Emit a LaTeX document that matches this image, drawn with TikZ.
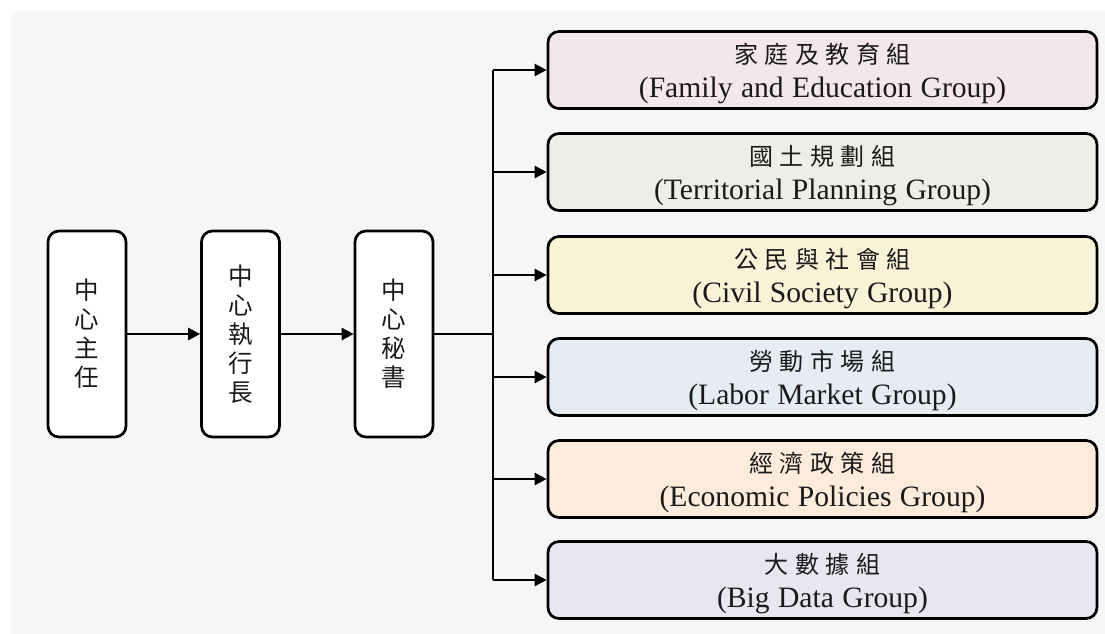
\documentclass[tikz,border=0pt]{standalone}
\usepackage{fontspec}
\setmainfont{Liberation Serif}
\newfontfamily\cjk{Noto Sans CJK TC}
\usetikzlibrary{arrows.meta}
\definecolor{bgc}{HTML}{F6F6F6}
\definecolor{ink}{HTML}{1A1A1A}
\definecolor{cpink}{HTML}{F4E7EC}
\definecolor{cgreen}{HTML}{ECEFE8}
\definecolor{cyellow}{HTML}{FAF3D8}
\definecolor{cblue}{HTML}{E6ECF4}
\definecolor{cpeach}{HTML}{FDEBDC}
\definecolor{clav}{HTML}{EAE6F1}
\newcommand\zs{\hspace{6.5pt}}
\newcommand\zh[1]{{\cjk\fontsize{24}{34}\selectfont\rule{0pt}{28pt}#1}}
\newcommand\engfont{\fontsize{29.6}{34}\selectfont\spaceskip 8.4pt plus 2pt minus 1pt\relax}
\begin{document}
\begin{tikzpicture}[x=1pt,y=-1pt,
  lbox/.style={draw=black, line width=2.7pt, rounded corners=11pt, fill=white,
    minimum width=78pt, minimum height=206pt, inner sep=0pt, align=center,
    text=ink, font=\cjk\fontsize{24.5}{29}\selectfont},
  rbox/.style={draw=black, line width=2.7pt, rounded corners=11pt,
    minimum width=549pt, minimum height=77pt, inner sep=0pt, align=center,
    text=ink, font=\engfont},
  conn/.style={draw=black, line width=2.5pt},
  arr/.style={conn, -{Triangle[length=12pt,width=12pt]}}]
\useasboundingbox (0,0) rectangle (1105,633);
\fill[bgc, rounded corners=10pt] (10,10) rectangle (1130,660);
% left chain
\node[lbox] (b1) at (87,334) {中\\心\\主\\任};
\node[lbox] (b2) at (240.5,334) {中\\心\\執\\行\\長};
\node[lbox] (b3) at (394,334) {中\\心\\秘\\書};
% right groups
\node[rbox, fill=cpink]   (r1) at (822.5,70)  {\zh{家\zs{}庭\zs{}及\zs{}教\zs{}育\zs{}組}\\(Family and Education Group)};
\node[rbox, fill=cgreen]  (r2) at (822.5,172) {\zh{國\zs{}土\zs{}規\zs{}劃\zs{}組}\\(Territorial Planning Group)};
\node[rbox, fill=cyellow] (r3) at (822.5,275) {\zh{公\zs{}民\zs{}與\zs{}社\zs{}會\zs{}組}\\(Civil Society Group)};
\node[rbox, fill=cblue]   (r4) at (822.5,377) {\zh{勞\zs{}動\zs{}市\zs{}場\zs{}組}\\(Labor Market Group)};
\node[rbox, fill=cpeach]  (r5) at (822.5,479) {\zh{經\zs{}濟\zs{}政\zs{}策\zs{}組}\\(Economic Policies Group)};
\node[rbox, fill=clav]    (r6) at (822.5,580) {\zh{大\zs{}數\zs{}據\zs{}組}\\(Big Data Group)};
% connectors
\coordinate (tj) at (493,334);
\draw[arr] (b1) -- (b2);
\draw[arr] (b2) -- (b3);
\draw[conn] (b3.east) -- (tj);
\draw[conn] (tj |- r1.west) -- (tj |- r6.west);
\foreach \r in {r1,r2,r3,r4,r5,r6}
  \draw[arr] (tj |- \r.west) -- (\r.west);
\end{tikzpicture}
\end{document}
